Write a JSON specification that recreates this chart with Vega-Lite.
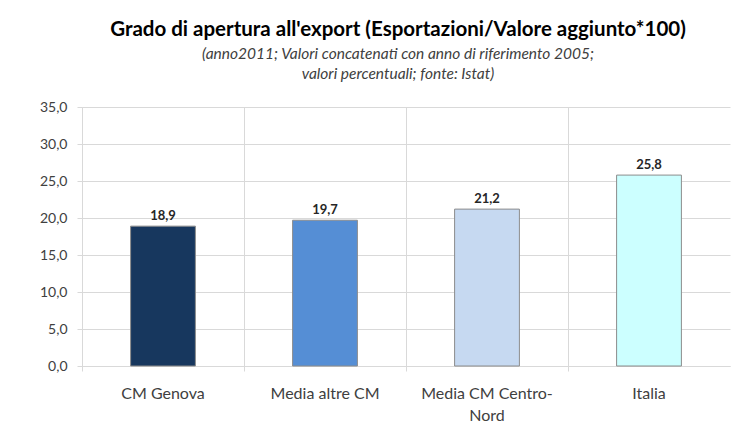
{
  "$schema": "https://vega.github.io/schema/vega-lite/v6.json",
  "width": 648,
  "height": 259,
  "autosize": {"type": "none"},
  "padding": {"left": 82, "top": 107, "right": 19, "bottom": 80},
  "background": "white",
  "config": {
    "locale": {"number": {"decimal": ",", "thousands": ".", "grouping": [3], "currency": ["€", ""]}},
    "font": "Lato",
    "view": {"stroke": null}
  },
  "title": {
    "text": "Grado di apertura all'export (Esportazioni/Valore aggiunto*100)",
    "subtitle": ["(anno2011; Valori concatenati con anno di riferimento 2005;", "valori percentuali; fonte: Istat)"],
    "font": "Lato",
    "fontSize": 20.5,
    "fontWeight": "bold",
    "color": "#000000",
    "subtitleFont": "Lato",
    "subtitleFontSize": 15.5,
    "subtitleFontStyle": "italic",
    "subtitleColor": "#404040",
    "subtitlePadding": 6,
    "subtitleLineHeight": 20,
    "anchor": "middle",
    "dx": -8,
    "offset": 18
  },
  "data": {
    "values": [
      {"categoria": "CM Genova", "valore": 18.9},
      {"categoria": "Media altre CM", "valore": 19.7},
      {"categoria": "Media CM Centro-Nord", "valore": 21.2},
      {"categoria": "Italia", "valore": 25.8}
    ]
  },
  "encoding": {
    "x": {
      "field": "categoria",
      "type": "nominal",
      "sort": null,
      "scale": {"paddingInner": 0, "paddingOuter": 0},
      "axis": {
        "title": null,
        "labelAngle": 0,
        "bandPosition": 0,
        "grid": true,
        "gridColor": "#d9d9d9",
        "domainColor": "#d9d9d9",
        "tickColor": "#d9d9d9",
        "tickSize": 5,
        "labelPadding": 14,
        "labelFontSize": 16,
        "labelColor": "#404040",
        "labelLineHeight": 22,
        "labelBaseline": "top",
        "labelExpr": "datum.value == 'Media CM Centro-Nord' ? ['Media CM Centro-', 'Nord'] : datum.value"
      }
    },
    "y": {
      "field": "valore",
      "type": "quantitative",
      "scale": {"domain": [0, 35], "nice": false},
      "axis": {
        "title": null,
        "values": [0, 5, 10, 15, 20, 25, 30, 35],
        "format": ".1f",
        "grid": true,
        "gridColor": "#d9d9d9",
        "domain": true,
        "domainColor": "#d9d9d9",
        "tickColor": "#d9d9d9",
        "tickSize": 5,
        "labelPadding": 10,
        "labelFontSize": 14,
        "labelColor": "#404040"
      }
    }
  },
  "layer": [
    {
      "mark": {"type": "bar", "width": {"band": 0.4}, "stroke": "#8c8c8c", "strokeWidth": 1},
      "encoding": {
        "color": {
          "field": "categoria",
          "type": "nominal",
          "sort": null,
          "legend": null,
          "scale": {
            "domain": ["CM Genova", "Media altre CM", "Media CM Centro-Nord", "Italia"],
            "range": ["#17375e", "#558ed5", "#c6d9f1", "#ccffff"]
          }
        }
      }
    },
    {
      "mark": {"type": "text", "dy": -10, "fontWeight": "bold", "fontSize": 13, "color": "#262626"},
      "encoding": {
        "text": {"field": "valore", "type": "quantitative", "format": ".1f"}
      }
    }
  ]
}
